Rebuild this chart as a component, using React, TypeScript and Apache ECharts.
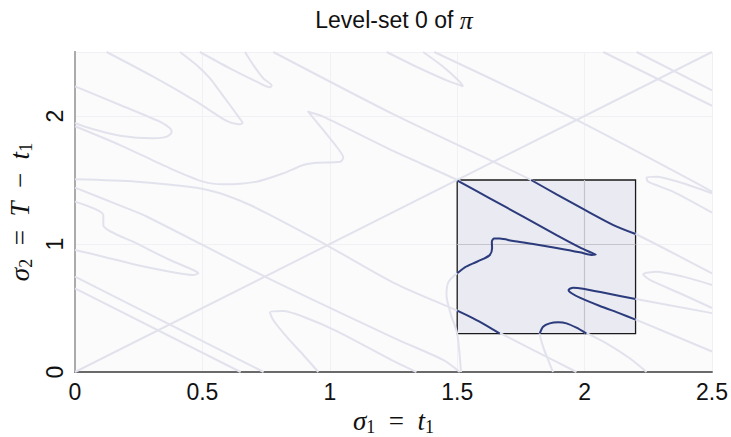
import React, { useEffect, useRef } from "react";
import * as echarts from "echarts";

// ---- axes ----
const xTicks = [0, 0.5, 1, 1.5, 2, 2.5];
const yTicks = [0, 1, 2];
const xRange = [0, 2.5];
const yRange = [0, 2.5];

// ---- zoomed window (inset) ----
const insetX = [1.5, 2.2];
const insetY = [0.3, 1.5];
const insetGridX = [2];
const insetGridY = [1];

// ---- level-set curves (full domain, drawn faint) ----
const lineDiag = [[0, 0], [2.5, 2.5]];
const lineC = [[0.778, 2.5], [1.255, 2.008], [1.641, 1.643], [1.79, 1.5], [1.89, 1.388], [2.001, 1.266], [2.113, 1.148], [2.201, 1.078], [2.5, 0.77]];
const lineD = [[1.41, 2.5], [1.968, 1.969], [2.5, 1.41]];
const lineE = [[2.073, 2.5], [2.5, 2.08]];
const lineF = [[2.204, 2.5], [2.5, 2.2]];
const spikeA = [[0.124, 2.5], [0.307, 2.307], [0.477, 2.112], [0.595, 1.961], [0.641, 1.935], [0.658, 1.945], [0.641, 1.995], [0.608, 2.086], [0.569, 2.19], [0.53, 2.294], [0.477, 2.398], [0.412, 2.5]];
const spikeB = [[0.49, 2.5], [0.608, 2.372], [0.713, 2.268], [0.765, 2.224], [0.772, 2.237], [0.739, 2.294], [0.7, 2.398], [0.667, 2.5]];
const spikeLeft = [[0, 2.232], [0.177, 2.086], [0.333, 1.956], [0.373, 1.904], [0.379, 1.872], [0.36, 1.839], [0.307, 1.826], [0.177, 1.846], [0.059, 1.904], [0, 1.945]];
const spikeTop = [[1.223, 2.5], [1.34, 2.385], [1.471, 2.268], [1.523, 2.232], [1.51, 2.268], [1.445, 2.385], [1.366, 2.5]];
const spikeRight = [[2.5, 1.396], [2.374, 1.482], [2.282, 1.526], [2.243, 1.52], [2.249, 1.487], [2.347, 1.409], [2.5, 1.245]];
const spikeRightLow = [[2.5, 0.68], [2.387, 0.745], [2.282, 0.784], [2.23, 0.763], [2.256, 0.719], [2.374, 0.615], [2.5, 0.5]];
const longCurve = [[0, 1.92], [0.177, 1.773], [0.373, 1.591], [0.503, 1.487], [0.582, 1.466], [0.713, 1.487], [0.817, 1.552], [0.896, 1.617], [0.948, 1.635], [1.04, 1.643], [1.053, 1.674], [1.027, 1.76], [0.974, 1.891], [0.915, 2.034], [0.974, 1.995], [1.255, 1.721], [1.5, 1.5], [1.628, 1.357], [1.759, 1.214], [1.89, 1.07], [1.981, 0.974], [2.044, 0.917], [1.981, 0.935], [1.798, 1.0], [1.667, 1.042], [1.636, 1.018], [1.628, 0.914], [1.563, 0.849], [1.5, 0.771], [1.465, 0.7], [1.458, 0.6], [1.475, 0.45], [1.5, 0.3], [1.515, 0]];
const lineG = [[0, 1.505], [0.242, 1.487], [0.477, 1.44], [0.569, 1.396], [0.687, 1.305], [0.765, 1.227], [0.987, 0.992], [1.255, 0.693], [1.5, 0.479], [1.563, 0.419], [1.615, 0.362], [1.667, 0.305], [1.824, 0.146], [1.968, 0]];
const lineH = [[0, 1.44], [0.19, 1.29], [0.281, 1.215], [0.745, 0.745], [1.255, 0.263], [1.445, 0.094], [1.51, 0]];
const spikeMid = [[0, 1.331], [0.111, 1.227], [0.111, 1.148], [0.242, 1.005], [0.373, 0.875], [0.464, 0.797], [0.484, 0.771], [0.464, 0.758], [0.373, 0.784], [0.242, 0.836], [0.111, 0.901], [0, 0.953]];
const lineI = [[0, 0.745], [0.74, 0]];
const lineJ = [[0, 0.654], [0.65, 0]];
const spikeLow = [[1.34, 0], [1.255, 0.081], [1.027, 0.32], [0.896, 0.432], [0.817, 0.477], [0.765, 0.466], [0.778, 0.406], [0.83, 0.276], [0.896, 0.133], [0.955, 0]];
const archLow = [[1.876, 0], [1.857, 0.094], [1.837, 0.198], [1.824, 0.305], [1.837, 0.354], [1.863, 0.38], [1.896, 0.388], [1.929, 0.38], [1.968, 0.346], [2.007, 0.305], [2.086, 0.224], [2.177, 0.107], [2.243, 0]];
const spikeInsetRight = [[2.5, 0.46], [2.201, 0.57], [2.086, 0.615], [1.994, 0.651], [1.955, 0.659], [1.937, 0.641], [1.949, 0.615], [1.981, 0.581], [2.06, 0.516], [2.138, 0.458], [2.201, 0.409], [2.5, 0.16]];

// ---- same curves inside the window (drawn dark) ----
const darkA = [[1.501, 1.495], [1.628, 1.357], [1.759, 1.214], [1.89, 1.07], [1.981, 0.974], [2.027, 0.932], [2.044, 0.917], [2.027, 0.914], [1.981, 0.935], [1.89, 0.969], [1.798, 1.0], [1.72, 1.023], [1.667, 1.042], [1.644, 1.042], [1.636, 1.018], [1.637, 0.966], [1.628, 0.914], [1.602, 0.883], [1.563, 0.849], [1.53, 0.818], [1.5, 0.771]];
const darkB = [[1.79, 1.5], [1.89, 1.388], [2.001, 1.266], [2.113, 1.148], [2.2, 1.078]];
const darkC = [[2.2, 0.57], [2.086, 0.615], [1.994, 0.651], [1.955, 0.659], [1.937, 0.641], [1.949, 0.615], [1.981, 0.581], [2.06, 0.516], [2.138, 0.458], [2.2, 0.409]];
const darkD = [[1.5, 0.479], [1.563, 0.419], [1.615, 0.362], [1.667, 0.3]];
const darkE = [[1.824, 0.3], [1.837, 0.354], [1.863, 0.38], [1.896, 0.388], [1.929, 0.38], [1.968, 0.346], [2.007, 0.3]];

const lightCurves = [lineDiag, lineC, lineD, lineE, lineF, spikeA, spikeB, spikeLeft, spikeTop, spikeRight, spikeRightLow, longCurve, lineG, lineH, spikeMid, lineI, lineJ, spikeLow, archLow, spikeInsetRight];
const darkCurves = [darkA, darkB, darkC, darkD, darkE];

const LIGHT = "#e2e2ed";
const DARK = "#2c3b7c";
const MATH = "'Liberation Serif', 'DejaVu Serif', serif";
const SANS = "'Liberation Sans', 'DejaVu Sans', sans-serif";

export default function App() {
  const ref = useRef<HTMLDivElement>(null);
  useEffect(() => {
    if (!ref.current) return;
    const chart = echarts.init(ref.current, null, { renderer: "svg" });
    const grid = { left: 75, right: 19, top: 52, bottom: 65 };
    const series: any[] = [];
    lightCurves.forEach((c) =>
      series.push({
        type: "line",
        data: c,
        showSymbol: false,
        smooth: 0.25,
        silent: true,
        z: 2,
        lineStyle: { color: LIGHT, width: 2 },
      })
    );
    series.push({
      type: "line",
      data: [],
      silent: true,
      z: 3,
      markArea: {
        silent: true,
        itemStyle: { color: "#eaebf2", borderColor: "#1a1a1a", borderWidth: 1.3 },
        data: [[{ coord: [insetX[0], insetY[1]] }, { coord: [insetX[1], insetY[0]] }]],
      },
      markLine: {
        silent: true,
        symbol: "none",
        label: { show: false },
        lineStyle: { color: "#c4c4ca", width: 1.2, type: "solid" },
        data: [
          ...insetGridX.map((gx) => [{ coord: [gx, insetY[0]] }, { coord: [gx, insetY[1]] }]),
          ...insetGridY.map((gy) => [{ coord: [insetX[0], gy] }, { coord: [insetX[1], gy] }]),
        ],
      },
    });
    darkCurves.forEach((c) =>
      series.push({
        type: "line",
        data: c,
        showSymbol: false,
        smooth: 0.25,
        silent: true,
        z: 5,
        lineStyle: { color: DARK, width: 2 },
      })
    );
    const mathRich = {
      i: { fontFamily: MATH, fontStyle: "italic", fontSize: 27, color: "#111" },
      n: { fontFamily: MATH, fontSize: 27, color: "#111" },
      s: { fontFamily: MATH, fontSize: 18, color: "#111", padding: [12, 0, 0, 0] },
    };
    chart.setOption({
      animation: false,
      grid: { ...grid, show: true, backgroundColor: "#fbfbfc", borderWidth: 0, containLabel: false, outerBoundsMode: "none" },
      xAxis: [
        {
          type: "value",
          min: xRange[0],
          max: xRange[1],
          interval: 0.5,
          position: "bottom",
          axisLine: { show: true, lineStyle: { color: "#ababab", width: 2 } },
          axisTick: { show: false },
          splitLine: { show: true, lineStyle: { color: "#f1f1f5", width: 1 } },
          axisLabel: {
            fontFamily: SANS,
            fontSize: 23,
            color: "#111",
            margin: 8,
            formatter: (v: number) => (xTicks.includes(v) ? String(v) : ""),
          },
          name: "{i|σ}{s|1}{n|  =  }{i|t}{s|1}",
          nameLocation: "middle",
          nameGap: 31,
          nameTextStyle: { rich: mathRich },
        },
        {
          type: "value",
          min: xRange[0],
          max: xRange[1],
          position: "top",
          axisLine: { show: true, lineStyle: { color: "#555", width: 1.5 } },
          axisTick: { show: false },
          axisLabel: { show: false },
          splitLine: { show: false },
        },
      ],
      yAxis: [
        {
          type: "value",
          min: yRange[0],
          max: yRange[1],
          interval: 1,
          position: "left",
          axisLine: { show: true, lineStyle: { color: "#555", width: 1.5 } },
          axisTick: { show: false },
          splitLine: { show: true, lineStyle: { color: "#f1f1f5", width: 1 } },
          axisLabel: {
            fontFamily: SANS,
            fontSize: 23,
            color: "#111",
            rotate: 90,
            margin: 9,
            formatter: (v: number) => (yTicks.includes(v) ? String(v) : ""),
          },
          name: "{i|σ}{s|2}{n|  =  }{i|T}{n|  −  }{i|t}{s|1}",
          nameLocation: "middle",
          nameRotate: 90,
          nameGap: 38,
          nameTextStyle: { rich: mathRich },
        },
        {
          type: "value",
          min: yRange[0],
          max: yRange[1],
          position: "right",
          axisLine: { show: true, lineStyle: { color: "#ababab", width: 2 } },
          axisTick: { show: false },
          axisLabel: { show: false },
          splitLine: { show: false },
        },
      ],
      graphic: [
        {
          type: "text",
          x: 394,
          y: 20,
          style: {
            text: "{t|Level-set 0 of }{p|π}",
            align: "center",
            verticalAlign: "middle",
            rich: {
              t: { fontFamily: SANS, fontSize: 23, fill: "#111", color: "#111" },
              p: { fontFamily: MATH, fontStyle: "italic", fontSize: 26, fill: "#111", color: "#111" },
            },
          },
        },
      ],
      series,
    });
    return () => chart.dispose();
  }, []);
  return (
    <div
      ref={ref}
      style={{ position: "absolute", left: 0, top: 0, width: 731, height: 437, background: "#fff" }}
    />
  );
}
